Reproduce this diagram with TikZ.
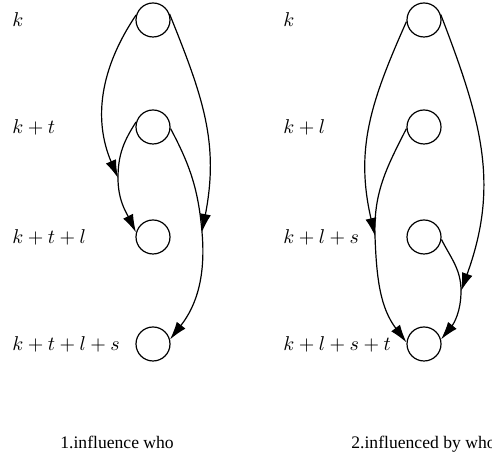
\documentclass[tikz,border=0pt]{standalone}
\usepackage{fontspec}
\usepackage{tikz}
\usetikzlibrary{arrows.meta}
\newfontfamily\capfont{Liberation Serif}

\begin{document}
\begin{tikzpicture}[x=0.5pt,y=0.5pt,
    circ/.style={draw,circle,line width=0.6pt,minimum size=17pt,inner sep=0pt},
    lbl/.style={anchor=west,inner sep=0pt},
    arr/.style={line width=0.6pt,-{Latex[length=9pt,width=5.5pt]}},
    captxt/.style={anchor=base west,inner sep=0pt,font=\capfont\fontsize{8.8}{10}\selectfont}]
        \useasboundingbox (0,0) rectangle (492,459);
        % left: influence who
        \foreach \n/\y/\lab in {1/439/k,2/332/k+t,3/222/k+t+l,4/115/k+t+l+s}{
          \node[circ] (a\n) at (153,\y) {};
          \node[lbl] (la\n) at (12,\y) {$\lab$};
        }
        % right: influenced by who
        \foreach \n/\y/\lab in {1/439/k,2/332/k+l,3/222/k+l+s,4/115/k+l+s+t}{
          \node[circ] (b\n) at (424,\y) {};
          \node[lbl] (lb\n) at (283,\y) {$\lab$};
        }
        \coordinate (p1) at (118,281);
        \coordinate (p2) at (202,227);
        \coordinate (p3) at (461,168);
        \coordinate (p4) at (375,223);
        \draw[arr] (a1.163) to[out=236,in=113] (p1);
        \draw[arr] (a2.163) to[out=237,in=90] (p1) to[out=270,in=116] (a3.165);
        \draw[arr] (a1.20) to[out=292,in=79,looseness=1.05] (p2);
        \draw[arr] (a2.-5) to[out=298,in=95] (p2) to[out=275,in=52] (a4.15);
        \draw[arr] (b1.185) to[out=246,in=103,looseness=1.05] (p4);
        \draw[arr] (b2.185) to[out=243,in=92] (p4) to[out=272,in=127] (b4.175);
        \draw[arr] (b1.18) to[out=291,in=70,looseness=1.05] (p3);
        \draw[arr] (b3.-8) to[out=297,in=90] (p3) to[out=270,in=51] (b4.15);
        \node[captxt] (c1) at (60,10) {1.influence who};
        \node[captxt] (c2) at (351,10) {2.influenced by who};
\end{tikzpicture}
\end{document}
